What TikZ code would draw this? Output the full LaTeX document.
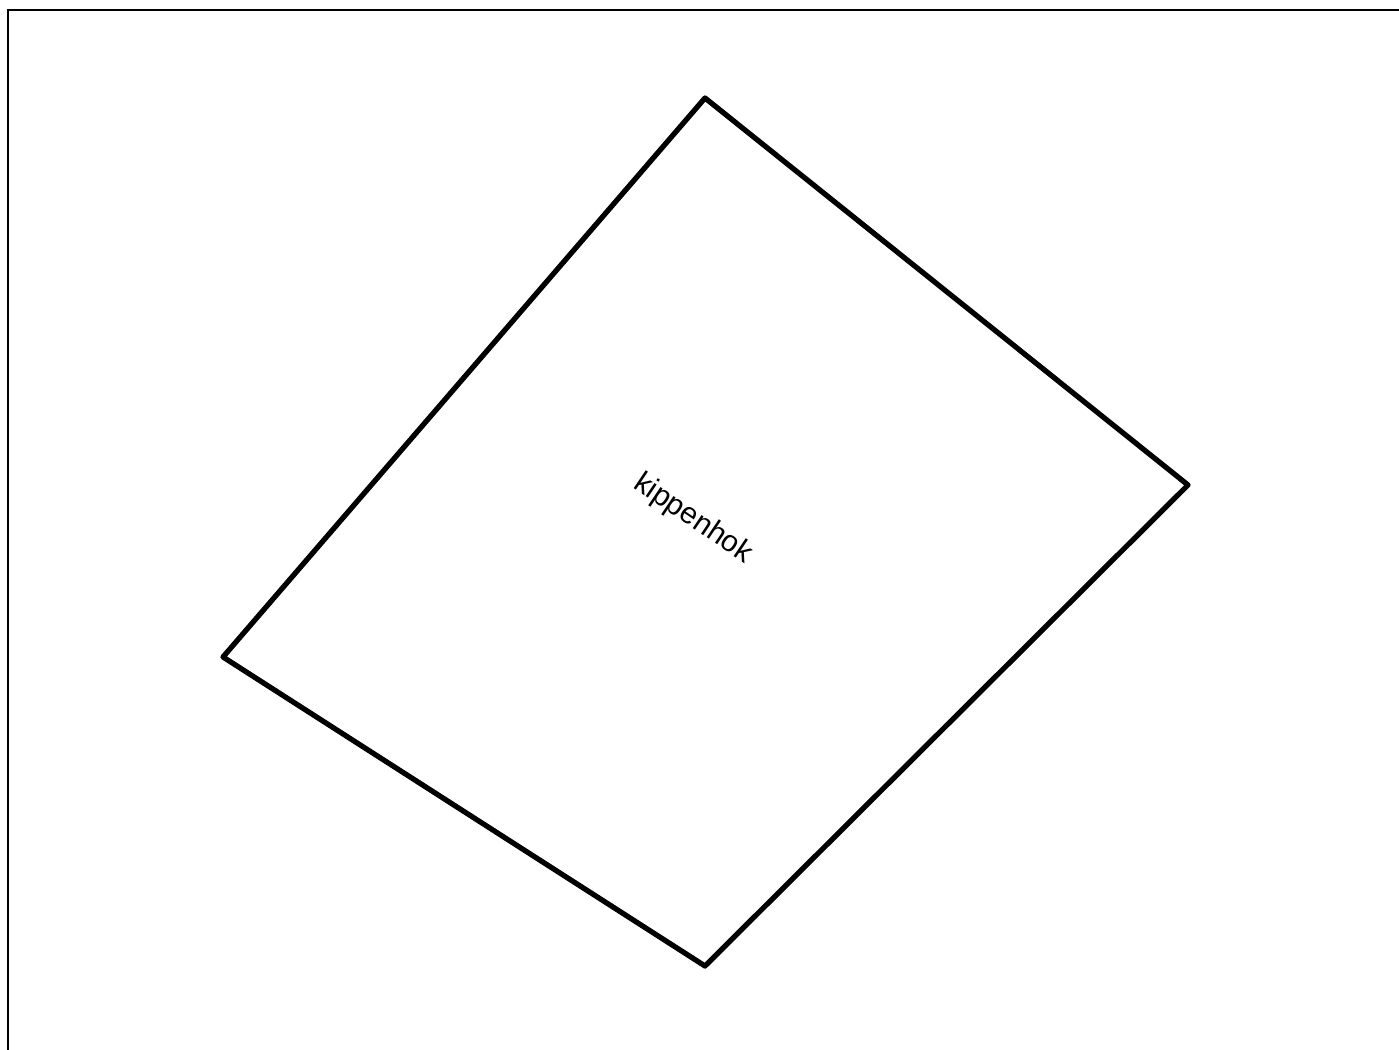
\documentclass[tikz,border=0pt]{standalone}
\usepackage{fontspec}
\setsansfont{Liberation Sans}
\usetikzlibrary{positioning}
\tikzset{
  every picture/.style={font=\sffamily, line width=1.2pt},
  frameline/.style={draw=black, line width=1.5pt},
  plot/.style={draw=black, line width=3pt, line join=round},
  plotlabel/.style={font=\sffamily\fontsize{17}{20}\selectfont, rotate=-34, inner sep=0pt},
}

\begin{document}
\begin{tikzpicture}[x=0.02cm, y=-0.02cm]
  \useasboundingbox (0,0) rectangle (1399,1050);
  \coordinate (fl) at (8,1050); \coordinate (fc) at (8,10); \coordinate (fr) at (1399,10);
  \draw[frameline] (fl) -- (fc) -- (fr);
  \coordinate (top) at (705,98); \coordinate (right) at (1188,485);
  \coordinate (bottom) at (705,966); \coordinate (left) at (223,657);
  \draw[plot] (top) -- (right) -- (bottom) -- (left) -- cycle;
  \node[plotlabel] (kip) at (693,519) {kippenhok};
\end{tikzpicture}
\end{document}
